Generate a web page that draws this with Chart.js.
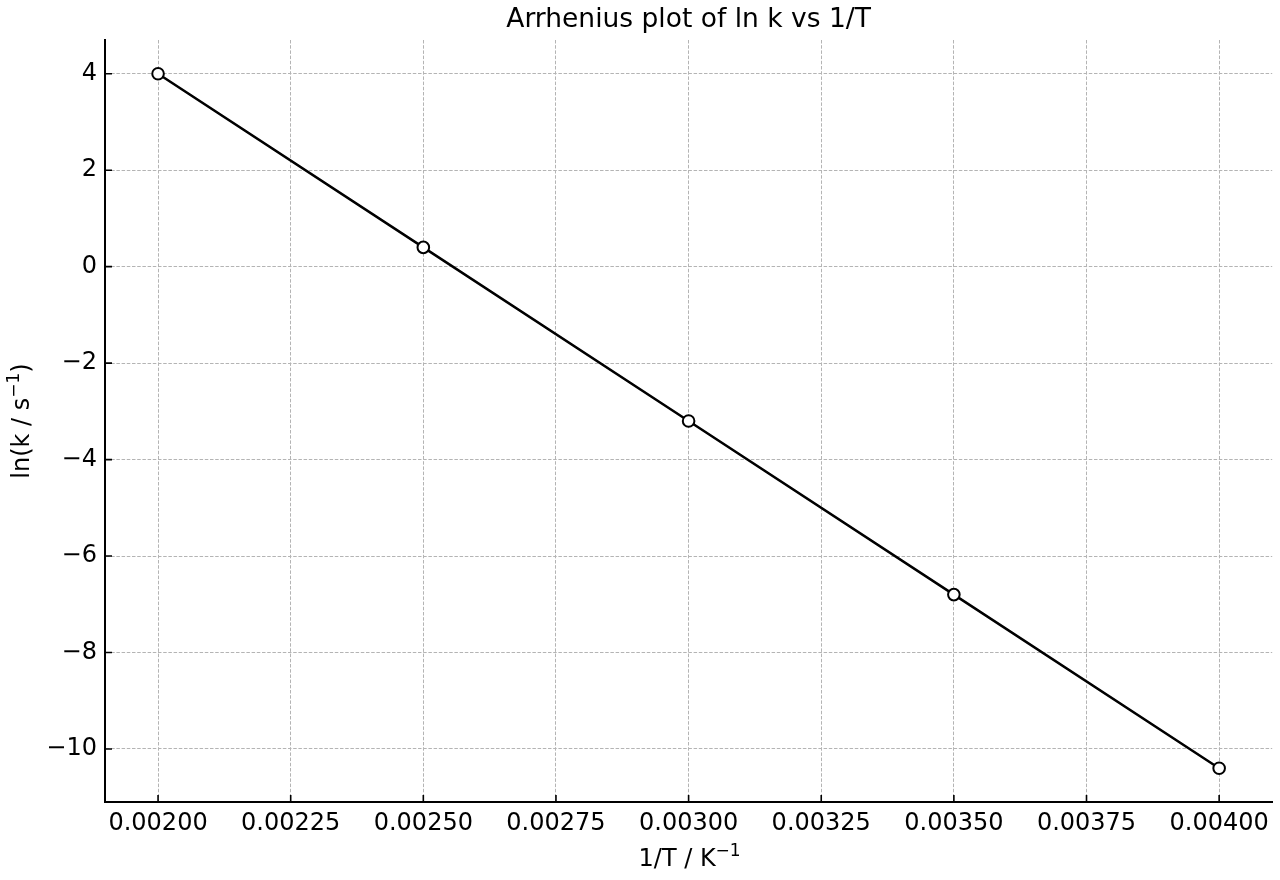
<!DOCTYPE html>
<html>
<head>
<meta charset="utf-8">
<script src="https://cdn.jsdelivr.net/npm/chart.js@4"></script>
<style>
  html, body { margin: 0; padding: 0; background: #fff; }
  #wrap { width: 1280px; height: 880px; }
</style>
</head>
<body>
<div id="wrap"><canvas id="chart" width="1280" height="880"></canvas></div>
<script>
const invT = [0.0020, 0.0025, 0.0030, 0.0035, 0.0040];
const lnK = [4.0, 0.4, -3.2, -6.8, -10.4];
const xTicks = [0.002, 0.00225, 0.0025, 0.00275, 0.003, 0.00325, 0.0035, 0.00375, 0.004];
const yTicks = [-10, -8, -6, -4, -2, 0, 2, 4];

const FONT = "'DejaVu Sans', sans-serif";
const TITLE = 'Arrhenius plot of ln k vs 1/T';
const X_LABEL = ['1/T / K', '\u22121'];
const Y_LABEL = ['ln(k / s', '\u22121', ')'];

// matplotlib-style inward ticks drawn on the scales
const inwardTicks = {
    id: 'inwardTicks',
    afterDraw(chart) {
        const ctx = chart.ctx;
        const area = chart.chartArea;
        const xs = chart.scales.x, ys = chart.scales.y;
        ctx.save();
        ctx.strokeStyle = '#000';
        ctx.lineWidth = 1.6;
        ctx.beginPath();
        xTicks.forEach(v => {
            const px = xs.getPixelForValue(v);
            ctx.moveTo(px, area.bottom);
            ctx.lineTo(px, area.bottom - 7);
        });
        yTicks.forEach(v => {
            const py = ys.getPixelForValue(v);
            ctx.moveTo(area.left, py);
            ctx.lineTo(area.left + 7, py);
        });
        ctx.stroke();
        ctx.restore();
    }
};

// text with a raised exponent, centred on (0, 0)
function drawSup(ctx, parts, size) {
    const big = size + 'px ' + FONT;
    const small = Math.round(size * 0.7) + 'px ' + FONT;
    const widths = parts.map((p, i) => {
        ctx.font = i === 1 ? small : big;
        return ctx.measureText(p).width;
    });
    let x = -widths.reduce((a, b) => a + b, 0) / 2;
    parts.forEach((p, i) => {
        ctx.font = i === 1 ? small : big;
        ctx.fillText(p, x, i === 1 ? -size * 0.4 : 0);
        x += widths[i];
    });
}

const labels = {
    id: 'labels',
    afterDraw(chart) {
        const ctx = chart.ctx;
        const area = chart.chartArea;
        const cx = (area.left + area.right) / 2;
        ctx.save();
        ctx.fillStyle = '#000';
        ctx.textAlign = 'center';
        ctx.textBaseline = 'alphabetic';
        ctx.font = '26.5px ' + FONT;
        ctx.fillText(TITLE, cx, 27);

        ctx.textAlign = 'left';
        ctx.save();
        ctx.translate(cx + 1, 866);
        drawSup(ctx, X_LABEL, 24);
        ctx.restore();

        ctx.save();
        ctx.translate(29, (area.top + area.bottom) / 2);
        ctx.rotate(-Math.PI / 2);
        drawSup(ctx, Y_LABEL, 24);
        ctx.restore();
        ctx.restore();
    }
};

new Chart(document.getElementById('chart'), {
    type: 'line',
    data: {
        datasets: [{
            data: invT.map((x, i) => ({ x, y: lnK[i] })),
            borderColor: '#000',
            borderWidth: 2.5,
            pointBackgroundColor: '#fff',
            pointBorderColor: '#000',
            pointBorderWidth: 2,
            pointRadius: 5.8,
            tension: 0
        }]
    },
    options: {
        responsive: false,
        animation: false,
        layout: { padding: { left: 0, right: 7, top: 40, bottom: 0 } },
        plugins: {
            legend: { display: false },
            tooltip: { enabled: false },
            title: { display: false }
        },
        scales: {
            x: {
                type: 'linear',
                min: 0.0019,
                max: 0.0041,
                afterBuildTicks: s => { s.ticks = xTicks.map(v => ({ value: v })); },
                afterFit: s => { s.height = 78; },
                ticks: {
                    color: '#000',
                    font: { family: FONT, size: 24 },
                    padding: 7,
                    maxRotation: 0,
                    autoSkip: false,
                    callback: v => v.toFixed(5)
                },
                grid: {
                    color: '#b4b4b4',
                    lineWidth: 1,
                    drawTicks: false
                },
                border: { display: true, color: '#000', width: 2, dash: [3.5, 1.7] }
            },
            y: {
                type: 'linear',
                min: -11.1,
                max: 4.7,
                afterBuildTicks: s => { s.ticks = yTicks.map(v => ({ value: v })); },
                afterFit: s => { s.width = 105; },
                ticks: {
                    color: '#000',
                    font: { family: FONT, size: 24 },
                    padding: 8,
                    autoSkip: false,
                    callback: v => (v < 0 ? '\u2212' + Math.abs(v) : String(v))
                },
                grid: {
                    color: '#b4b4b4',
                    lineWidth: 1,
                    drawTicks: false
                },
                border: { display: true, color: '#000', width: 2, dash: [3.5, 1.7] }
            }
        }
    },
    plugins: [inwardTicks, labels]
});
</script>
</body>
</html>
